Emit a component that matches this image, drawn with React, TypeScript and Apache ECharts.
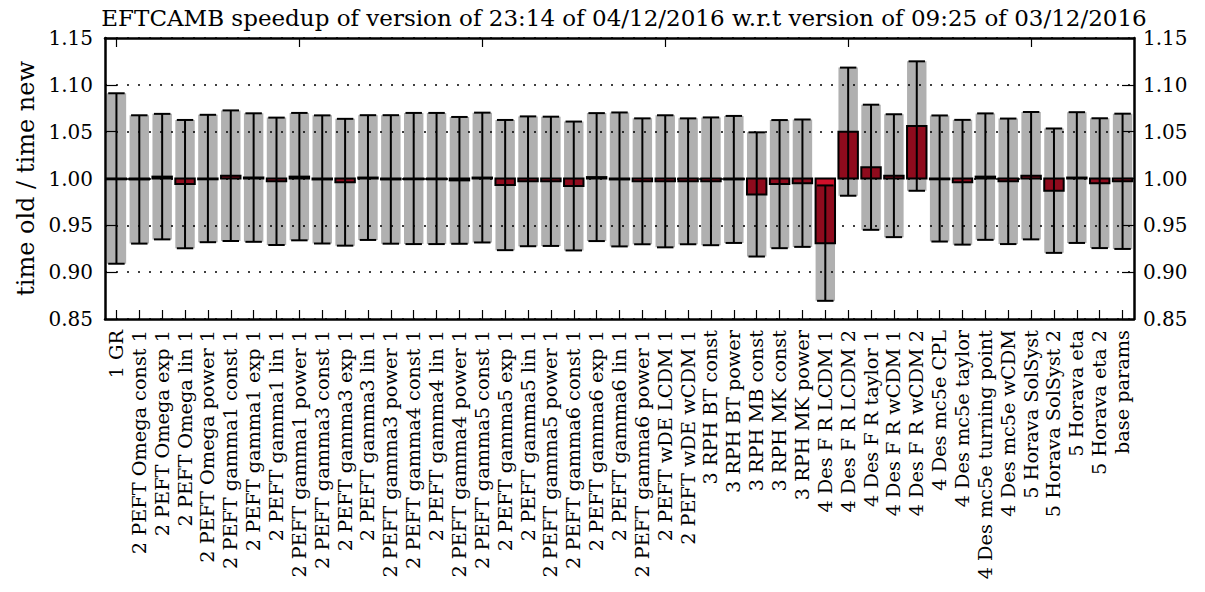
import React, { useEffect, useRef } from "react";
import * as echarts from "echarts";

const titleText =
  "EFTCAMB speedup of version of 23:14 of 04/12/2016 w.r.t version of 09:25 of 03/12/2016";
const yAxisName = "time old / time new";

const categories = [
  "1 GR",
  "2 PEFT Omega const 1",
  "2 PEFT Omega exp 1",
  "2 PEFT Omega lin 1",
  "2 PEFT Omega power 1",
  "2 PEFT gamma1 const 1",
  "2 PEFT gamma1 exp 1",
  "2 PEFT gamma1 lin 1",
  "2 PEFT gamma1 power 1",
  "2 PEFT gamma3 const 1",
  "2 PEFT gamma3 exp 1",
  "2 PEFT gamma3 lin 1",
  "2 PEFT gamma3 power 1",
  "2 PEFT gamma4 const 1",
  "2 PEFT gamma4 lin 1",
  "2 PEFT gamma4 power 1",
  "2 PEFT gamma5 const 1",
  "2 PEFT gamma5 exp 1",
  "2 PEFT gamma5 lin 1",
  "2 PEFT gamma5 power 1",
  "2 PEFT gamma6 const 1",
  "2 PEFT gamma6 exp 1",
  "2 PEFT gamma6 lin 1",
  "2 PEFT gamma6 power 1",
  "2 PEFT wDE LCDM 1",
  "2 PEFT wDE wCDM 1",
  "3 RPH BT const",
  "3 RPH BT power",
  "3 RPH MB const",
  "3 RPH MK const",
  "3 RPH MK power",
  "4 Des F R LCDM 1",
  "4 Des F R LCDM 2",
  "4 Des F R taylor 1",
  "4 Des F R wCDM 1",
  "4 Des F R wCDM 2",
  "4 Des mc5e CPL",
  "4 Des mc5e taylor",
  "4 Des mc5e turning point",
  "4 Des mc5e wCDM",
  "5 Horava SolSyst",
  "5 Horava SolSyst 2",
  "5 Horava eta",
  "5 Horava eta 2",
  "base params",
];

// speedup ratio (time old / time new)
const ratios = [
  1.0, 0.999, 1.002, 0.994, 1.0, 1.003, 1.001, 0.997, 1.002, 0.999, 0.996,
  1.001, 0.999, 1.0, 1.0, 0.998, 1.001, 0.993, 0.997, 0.997, 0.992, 1.0015,
  0.999, 0.997, 0.997, 0.997, 0.997, 0.999, 0.983, 0.994, 0.995, 0.931, 1.05,
  1.012, 1.003, 1.056, 1.0, 0.996, 1.002, 0.997, 1.003, 0.987, 1.001, 0.995,
  0.997,
];

// error (half-width) of each ratio
const errors = [
  0.091, 0.0685, 0.067, 0.0685, 0.068, 0.0697, 0.0686, 0.068, 0.068, 0.0684,
  0.0677, 0.0666, 0.0686, 0.07, 0.07, 0.0677, 0.0693, 0.0695, 0.0693, 0.069,
  0.0688, 0.0683, 0.0715, 0.0672, 0.0705, 0.0672, 0.0682, 0.0678, 0.0663,
  0.0684, 0.068, 0.0616, 0.0684, 0.0668, 0.0656, 0.0691, 0.0673, 0.0666,
  0.0675, 0.067, 0.068, 0.0664, 0.0698, 0.0693, 0.0722,
];

const yTicks = { min: 0.85, max: 1.15, interval: 0.05 };

const FONT = "DejaVu Serif";

export default function App() {
  const ref = useRef<HTMLDivElement>(null);
  useEffect(() => {
    document.body.style.margin = "0";
    const chart = echarts.init(ref.current!, undefined, { renderer: "svg" });
    const data = categories.map((_, i) => [i, ratios[i], errors[i]]);
    const option: any = {
      animation: false,
      backgroundColor: "#ffffff",
      title: {
        text: titleText,
        left: 619,
        top: 1,
        textAlign: "center",
        textStyle: {
          fontFamily: FONT,
          fontSize: 23,
          fontWeight: "normal",
          color: "#000",
        },
      },
      grid: { left: 105, right: 71, top: 38, bottom: 273, containLabel: false },
      xAxis: [
        {
          type: "category",
          data: categories,
          position: "bottom",
          axisLine: { show: true, lineStyle: { color: "#000", width: 2.5 } },
          axisTick: {
            show: true,
            inside: true,
            length: 9,
            alignWithLabel: true,
            lineStyle: { color: "#000", width: 1.2 },
          },
          axisLabel: {
            rotate: 90,
            interval: 0,
            margin: 11,
            fontFamily: FONT,
            fontSize: 19.3,
            color: "#000",
          },
          splitLine: { show: false },
        },
        {
          type: "category",
          data: categories,
          position: "top",
          axisLine: { show: true, lineStyle: { color: "#000", width: 2.5 } },
          axisTick: {
            show: true,
            inside: true,
            length: 9,
            alignWithLabel: true,
            lineStyle: { color: "#000", width: 1.2 },
          },
          axisLabel: { show: false },
          splitLine: { show: false },
        },
      ],
      yAxis: [
        {
          type: "value",
          position: "left",
          min: yTicks.min,
          max: yTicks.max,
          interval: yTicks.interval,
          name: yAxisName,
          nameLocation: "middle",
          nameGap: 63,
          nameTextStyle: { fontFamily: FONT, fontSize: 24, color: "#000" },
          axisLine: { show: true, lineStyle: { color: "#000", width: 2.5 } },
          axisTick: {
            show: true,
            inside: true,
            length: 12,
            lineStyle: { color: "#000", width: 1.2 },
          },
          axisLabel: {
            margin: 12,
            fontFamily: FONT,
            fontSize: 20,
            color: "#000",
            formatter: (v: number) => v.toFixed(2),
          },
          splitLine: {
            show: true,
            lineStyle: { color: "#000", width: 1.5, type: [2, 9] },
          },
        },
        {
          type: "value",
          position: "right",
          min: yTicks.min,
          max: yTicks.max,
          interval: yTicks.interval,
          axisLine: { show: true, lineStyle: { color: "#000", width: 2.5 } },
          axisTick: {
            show: true,
            inside: true,
            length: 12,
            lineStyle: { color: "#000", width: 1.2 },
          },
          axisLabel: {
            margin: 9,
            fontFamily: FONT,
            fontSize: 20,
            color: "#000",
            formatter: (v: number) => v.toFixed(2),
          },
          splitLine: { show: false },
        },
      ],
      series: [
        {
          type: "custom",
          xAxisIndex: 0,
          yAxisIndex: 0,
          encode: { x: 0, y: 1 },
          data,
          renderItem: (params: any, api: any) => {
            const i = api.value(0);
            const v = api.value(1);
            const e = api.value(2);
            const cw = api.size([1, 0])[0];
            const bw = cw * 0.85;
            const capW = cw * 0.72;
            const [x, yv] = api.coord([i, v]);
            const y1 = api.coord([i, 1])[1];
            const ylo = api.coord([i, v - e])[1];
            const yhi = api.coord([i, v + e])[1];
            const rTop = Math.min(y1, yv);
            const rH = Math.max(Math.abs(y1 - yv), 0.8);
            return {
              type: "group",
              children: [
                {
                  type: "rect",
                  shape: { x: x - bw / 2, y: rTop, width: bw, height: rH },
                  style: { fill: "#d0102a", stroke: "none" },
                },
                {
                  type: "rect",
                  shape: { x: x - bw / 2, y: yhi, width: bw, height: ylo - yhi },
                  style: { fill: "rgba(0,0,0,0.31)", stroke: "none" },
                },
                {
                  type: "rect",
                  shape: { x: x - bw / 2, y: rTop, width: bw, height: rH },
                  style: { fill: "none", stroke: "#000", lineWidth: 2 },
                },
                {
                  type: "line",
                  shape: { x1: x, y1: yhi, x2: x, y2: ylo },
                  style: { stroke: "#000", lineWidth: 2 },
                },
                {
                  type: "line",
                  shape: { x1: x - capW / 2, y1: yhi, x2: x + capW / 2, y2: yhi },
                  style: { stroke: "#000", lineWidth: 2 },
                },
                {
                  type: "line",
                  shape: { x1: x - capW / 2, y1: ylo, x2: x + capW / 2, y2: ylo },
                  style: { stroke: "#000", lineWidth: 2 },
                },
              ],
            };
          },
        },
      ],
    };
    chart.setOption(option);
    return () => chart.dispose();
  }, []);
  return (
    <div
      ref={ref}
      style={{ position: "absolute", left: 0, top: 0, width: 1205, height: 592 }}
    />
  );
}
